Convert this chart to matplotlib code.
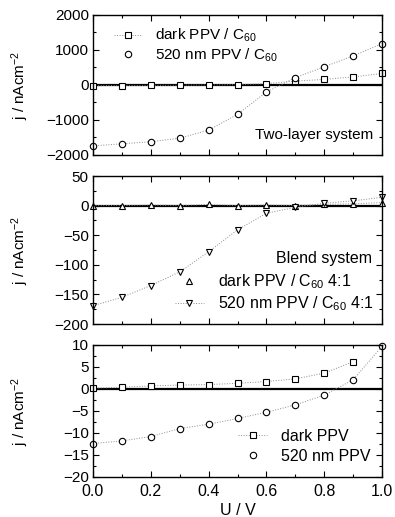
import matplotlib
matplotlib.use("Agg")
import matplotlib.pyplot as plt
from matplotlib.lines import Line2D
from matplotlib.ticker import MultipleLocator

plt.rcParams['font.family'] = ['Liberation Sans', 'DejaVu Sans']
plt.rcParams['mathtext.fontset'] = 'custom'
plt.rcParams['mathtext.rm'] = 'Liberation Sans'
plt.rcParams['mathtext.it'] = 'Liberation Sans'

U = [0.0, 0.1, 0.2, 0.3, 0.4, 0.5, 0.6, 0.7, 0.8, 0.9, 1.0]

# Panel 1: two-layer system
dark_bilayer = [-20, -15, -10, -5, 0, 10, 40, 110, 160, 230, 330]
light_bilayer = [-1740, -1680, -1620, -1520, -1290, -840, -200, 210, 520, 830, 1180]

# Panel 2: blend system
dark_blend = [0, 0, 1, 0, 2, 0, 1, 0, 2, 3, 5]
light_blend = [-169, -155, -135, -112, -78, -41, -13, -3, 4, 8, 14]

# Panel 3: PPV only
U_dark_ppv = [0.0, 0.1, 0.2, 0.3, 0.4, 0.5, 0.6, 0.7, 0.8, 0.9]
dark_ppv = [0.2, 0.4, 0.7, 0.9, 1.0, 1.3, 1.7, 2.3, 3.6, 6.2]
light_ppv = [-12.4, -11.8, -10.8, -9.0, -8.0, -6.7, -5.3, -3.6, -1.4, 2.1, 9.7]

fig = plt.figure(figsize=(3.95, 5.17), dpi=100)
L, W = 93/395, 289/395
ax1 = fig.add_axes([L, 1-155/517, W, 140/517])
ax2 = fig.add_axes([L, 1-324/517, W, 148/517])
ax3 = fig.add_axes([L, 1-477/517, W, 132/517])

fs = 11
ms = 4.6
line_kw = dict(linestyle=':', color='0.55', linewidth=0.7)
mark_kw = dict(markerfacecolor='white', markeredgecolor='black', markeredgewidth=0.8, markersize=ms)

def style(ax, ylim, minor, ticks):
    ax.set_xlim(0, 1)
    ax.set_ylim(*ylim)
    ax.axhline(0, color='black', lw=1.6, zorder=1)
    ax.xaxis.set_major_locator(MultipleLocator(0.2))
    ax.xaxis.set_minor_locator(MultipleLocator(0.1))
    ax.set_yticks(ticks)
    ax.yaxis.set_minor_locator(MultipleLocator(minor))
    ax.tick_params(which='both', direction='in', top=True, right=True, labelsize=fs, width=0.8)
    ax.tick_params(axis='y', pad=3)
    ax.tick_params(which='major', length=4)
    ax.tick_params(which='minor', length=2)
    for s in ax.spines.values():
        s.set_linewidth(1.0)
    ax.set_ylabel('j / nAcm$^{-2}$', fontsize=fs)
    ax.yaxis.set_label_coords(-0.215, 0.5)

def handle(marker, with_line):
    if with_line:
        return Line2D([], [], marker=marker, **mark_kw, **line_kw)
    return Line2D([], [], marker=marker, linestyle='none', **mark_kw)

leg_kw = dict(frameon=False, handlelength=1.8, handletextpad=0.9, borderpad=0.2)

# Panel 1
ax1.plot(U, dark_bilayer, marker='s', clip_on=False, **mark_kw, **line_kw)
ax1.plot(U, light_bilayer, marker='o', clip_on=False, **mark_kw, **line_kw)
style(ax1, (-2000, 2000), 500, [-2000, -1000, 0, 1000, 2000])
ax1.tick_params(axis='x', labelbottom=False)
ax1.text(0.97, 0.14, 'Two-layer system', transform=ax1.transAxes, ha='right', va='center', fontsize=11)
ax1.legend([handle('s', True), handle('o', False)],
           ['dark PPV / C$_{60}$', '520 nm PPV / C$_{60}$'], loc='upper left',
           bbox_to_anchor=(0.035, 0.99), labelspacing=0.15, fontsize=11, **leg_kw)

# Panel 2
ax2.plot(U, dark_blend, marker='^', clip_on=False, **mark_kw, **line_kw)
ax2.plot(U, light_blend, marker='v', clip_on=False, **mark_kw, **line_kw)
style(ax2, (-200, 50), 25, [-200, -150, -100, -50, 0, 50])
ax2.tick_params(axis='x', labelbottom=False)
ax2.text(0.965, 0.44, 'Blend system', transform=ax2.transAxes, ha='right', va='center', fontsize=11.5)
ax2.legend([handle('^', False), handle('v', True)],
           ['dark PPV / C$_{60}$ 4:1', '520 nm PPV / C$_{60}$ 4:1'], loc='lower right',
           bbox_to_anchor=(1.01, 0.0), labelspacing=0.2, fontsize=11.5, **leg_kw)

# Panel 3
ax3.plot(U_dark_ppv, dark_ppv, marker='s', clip_on=False, **mark_kw, **line_kw)
ax3.plot(U, light_ppv, marker='o', clip_on=False, **mark_kw, **line_kw)
style(ax3, (-20, 10), 2.5, [-20, -15, -10, -5, 0, 5, 10])
ax3.set_xticks([0.0, 0.2, 0.4, 0.6, 0.8, 1.0])
ax3.set_xticklabels(['0.0', '0.2', '0.4', '0.6', '0.8', '1.0'])
ax3.tick_params(axis='x', pad=5, labelsize=11.5)
ax3.set_xlabel('U / V', fontsize=11.5, labelpad=3)
ax3.legend([handle('s', True), handle('o', False)], ['dark PPV', '520 nm PPV'], loc='lower right',
           bbox_to_anchor=(1.0, 0.015), labelspacing=0.3, fontsize=11.5, **leg_kw)

fig.savefig('out.png', dpi=100)
